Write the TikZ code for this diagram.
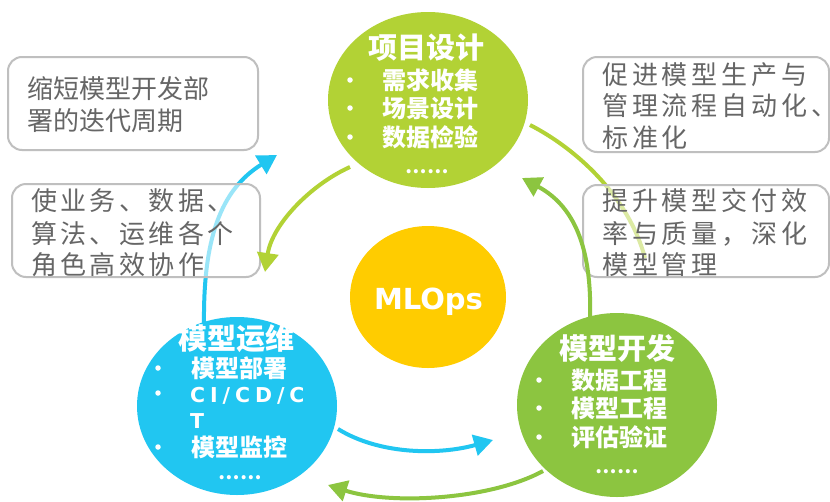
\documentclass[tikz,border=0pt]{standalone}
\usepackage{fontspec}
\usetikzlibrary{arrows.meta,shapes.geometric}
\newfontfamily\cjk{Noto Sans CJK SC}
\newfontfamily\cjka[LetterSpace=13]{Noto Sans CJK SC}
\newfontfamily\cjkb[LetterSpace=15]{Noto Sans CJK SC}
\newfontfamily\latw[LetterSpace=24]{DejaVu Sans}
\newfontfamily\latp{DejaVu Sans}
\definecolor{limeg}{HTML}{B2D235}
\definecolor{darkg}{HTML}{8CC540}
\definecolor{skyb}{HTML}{21C6F1}
\definecolor{yell}{HTML}{FFCC00}
\definecolor{txtg}{HTML}{666666}
\definecolor{boxg}{HTML}{BFBFBF}
\begin{document}
\begin{tikzpicture}[x=1pt,y=-1pt,
  arr/.style={line width=4pt,-{Triangle[length=19pt,width=21pt]}},
  plain/.style={line width=4pt},
  ell/.style={ellipse,inner sep=0pt,draw=none},
  gbox/.style={draw=boxg,line width=2pt,rounded corners=14pt,fill=white,fill opacity=0.55,inner sep=0pt},
  btxt/.style={anchor=base west,inner sep=0pt,text=txtg},
  ttl/.style={anchor=base,inner sep=0pt,text=white,font=\cjk\bfseries\fontsize{29}{29}\selectfont},
  itm/.style={anchor=base west,inner sep=0pt,text=white,font=\cjk\bfseries\fontsize{24}{24}\selectfont},
  bul/.style={circle,fill=white,inner sep=0pt,minimum size=5.5pt},
  more/.style={anchor=center,inner sep=0pt,text=white,font=\cjk\bfseries\fontsize{19}{19}\selectfont}
]
\useasboundingbox[fill=white] (0,0) rectangle (830,501);

% arrows under the boxes
\coordinate (a1s) at (204,325);
\coordinate (a1e) at (277,155);
\draw[arr,skyb] (a1s) .. controls (203,240) and (220,190) .. (a1e);
\coordinate (a3s) at (530,125);
\coordinate (a3e) at (645,258);
\draw[plain,limeg] (a3s) .. controls (575,148) and (628,195) .. (a3e);

% boxes
\node[gbox,minimum width=250pt,minimum height=93pt] (box1) at (133,103.5) {};
\node[gbox,minimum width=248pt,minimum height=93pt] (box2) at (136,230.5) {};
\node[gbox,minimum width=246pt,minimum height=95pt] (box3) at (706,104.5) {};
\node[gbox,minimum width=246pt,minimum height=92pt] (box4) at (706,231) {};

% other arrows
\coordinate (a2s) at (350,167);
\coordinate (a2e) at (265,272);
\draw[arr,limeg] (a2s) .. controls (310,185) and (272,225) .. (a2e);
\coordinate (a4s) at (590,320);
\coordinate (a4e) at (522,178);
\draw[arr,darkg] (a4s) .. controls (592,255) and (578,208) .. (a4e);
\coordinate (a5s) at (338,429);
\coordinate (a5e) at (493,440);
\draw[arr,skyb] (a5s) .. controls (380,455) and (440,455) .. (a5e);
\coordinate (a6s) at (543,471);
\coordinate (a6e) at (328,485);
\draw[arr,darkg] (a6s) .. controls (490,500) and (390,505) .. (a6e);

% circles
\node[ell,fill=limeg,minimum width=200pt,minimum height=176pt] (design) at (428,100) {};
\node[ell,fill=yell,minimum width=156pt,minimum height=142pt] (mlops) at (428,297) {};
\node[ell,fill=skyb,minimum width=200pt,minimum height=178pt] (ops) at (237,406) {};
\node[ell,fill=darkg,minimum width=200pt,minimum height=184pt] (dev) at (617,405) {};

% box texts
\begin{scope}[font=\cjk\fontsize{26}{31}\selectfont]
\node[btxt] (t11) at (27,98) {缩短模型开发部};
\node[btxt] (t12) at (27,130) {署的迭代周期};
\end{scope}
\begin{scope}[font=\cjka\fontsize{26}{31}\selectfont]
\node[btxt] (t21) at (31,210) {使业务、数据、};
\node[btxt] (t22) at (31,243) {算法、运维各个};
\node[btxt] (t23) at (31,274) {角色高效协作};
\end{scope}
\begin{scope}[font=\cjkb\fontsize{26}{31}\selectfont]
\node[btxt] (t31) at (602,84) {促进模型生产与};
\node[btxt] (t32) at (602,115) {管理流程自动化、};
\node[btxt] (t33) at (602,147) {标准化};
\node[btxt] (t41) at (602,210) {提升模型交付效};
\node[btxt] (t42) at (602,243) {率与质量，深化};
\node[btxt] (t43) at (602,274) {模型管理};
\end{scope}

% design circle text
\node[ttl] (dt) at (426,58) {项目设计};
\node[bul] (db1) at (350,80) {};
\node[bul] (db2) at (350,108) {};
\node[bul] (db3) at (350,137) {};
\node[itm] (d1) at (382,89) {需求收集};
\node[itm] (d2) at (382,117) {场景设计};
\node[itm] (d3) at (382,146) {数据检验};
\node[more] (dm) at (427,172) {……};

% MLOps
\node[anchor=base,inner sep=0pt,text=white,font=\latp\bfseries\fontsize{29}{29}\selectfont] (ml) at (428.5,309) {MLOps};

% dev circle text
\node[ttl] (vt) at (617,359) {模型开发};
\node[bul] (vb1) at (539,380) {};
\node[bul] (vb2) at (539,408) {};
\node[bul] (vb3) at (539,437) {};
\node[itm] (v1) at (571,389) {数据工程};
\node[itm] (v2) at (571,417) {模型工程};
\node[itm] (v3) at (571,446) {评估验证};
\node[more] (vm) at (617,472) {……};

% ops circle text
\node[ttl] (ot) at (236,349) {模型运维};
\node[bul] (ob1) at (158,368) {};
\node[bul] (ob2) at (158,393) {};
\node[bul] (ob3) at (158,447) {};
\node[itm] (o1) at (191,377) {模型部署};
\node[anchor=base west,inner sep=0pt,text=white,font=\latw\bfseries\fontsize{20.5}{20.5}\selectfont] (o2) at (190,402) {CI/CD/C};
\node[anchor=base west,inner sep=0pt,text=white,font=\latw\bfseries\fontsize{20.5}{20.5}\selectfont] (o2b) at (190,428) {T};
\node[itm] (o3) at (191,456) {模型监控};
\node[more] (om) at (240,478) {……};
\end{tikzpicture}
\end{document}
